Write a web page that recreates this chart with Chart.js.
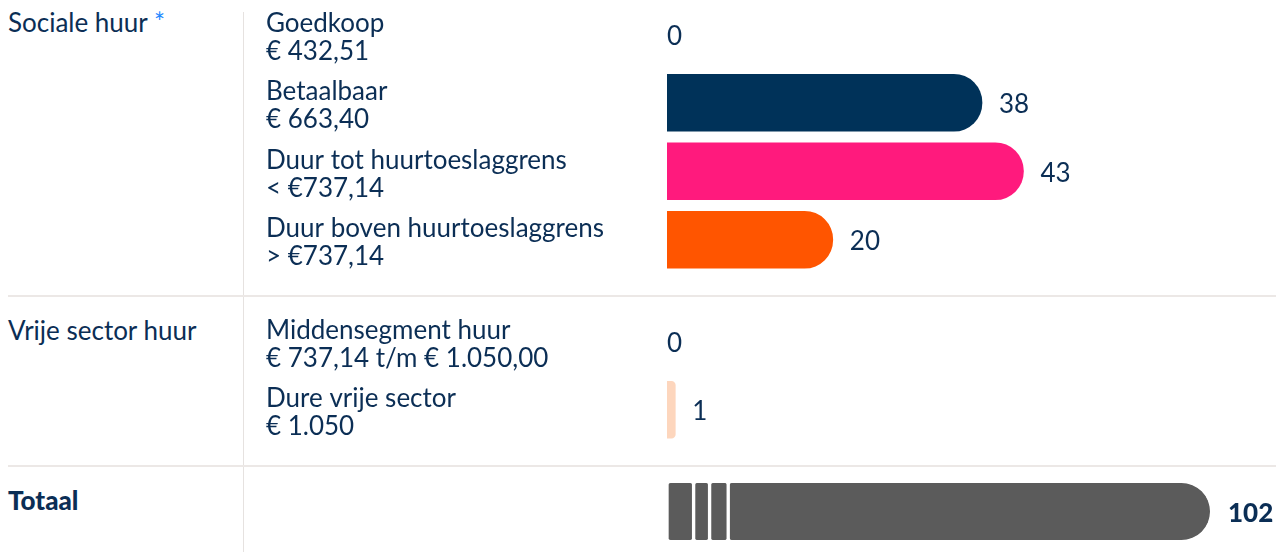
<!DOCTYPE html>
<html lang="nl">
<head>
<meta charset="utf-8">
<title>Huurwoningen per segment</title>
<script src="https://cdn.jsdelivr.net/npm/chart.js@4.4.1/dist/chart.umd.min.js"></script>
<style>
  body { margin: 0; background: #fff; font-family: Lato, sans-serif; color: #0b2e55; }
  #wrap { position: relative; width: 1276px; height: 552px; overflow: hidden; }
  .vline { position: absolute; left: 243px; top: 12px; width: 1px; height: 540px; background: #e6e2e0; }
  .hline { position: absolute; left: 8px; right: 0; height: 2px; background: #ece8e6; }
  .groep { position: absolute; left: 8px; font-size: 26px; line-height: 28px; white-space: nowrap; }
  .groep .ster { color: #1e88ff; }
  .groep.vet { font-weight: 900; }
  canvas { position: absolute; left: 243px; }
</style>
</head>
<body>
<div id="wrap">
  <div class="vline"></div>
  <div class="hline" style="top:295px"></div>
  <div class="hline" style="top:465px"></div>
  <div class="groep" style="top:8px">Sociale huur <span class="ster">*</span></div>
  <div class="groep" style="top:316px">Vrije sector huur</div>
  <div class="groep vet" style="top:486px">Totaal</div>
  <canvas id="socialeChart" width="1033" height="274" style="top:0px"></canvas>
  <canvas id="vrijeChart" width="1033" height="137" style="top:307px"></canvas>
  <canvas id="totaalChart" width="1033" height="69" style="top:477px"></canvas>
</div>
<script>
// data
const socialeLabels = [
    ['Goedkoop', '€ 432,51'],
    ['Betaalbaar', '€ 663,40'],
    ['Duur tot huurtoeslaggrens', '< €737,14'],
    ['Duur boven huurtoeslaggrens', '> €737,14']
];
const socialeWaarden = [0, 38, 43, 20];

const vrijeLabels = [
    ['Middensegment huur', '€ 737,14 t/m € 1.050,00'],
    ['Dure vrije sector', '€ 1.050']
];
const vrijeWaarden = [0, 1];

const totaalSegmenten = [5, 3, 3.5, 90.5];
const totaalWaarde = 102;

// colours
const socialeKleuren = ['#7fb2e5', '#003259', '#ff1a7d', '#ff5500'];
const vrijeKleuren = ['#ffb27f', '#fdd6bd'];
const totaalKleur = '#5b5b5b';
const tekstKleur = '#0b2e55';

const FONT = 'Lato, sans-serif';
const RIJ_MAX = 65.5;

const waardeLabels = {
    id: 'waardeLabels',
    afterDatasetsDraw(chart) {
        const ctx = chart.ctx;
        ctx.save();
        ctx.fillStyle = tekstKleur;
        ctx.textBaseline = 'middle';
        ctx.textAlign = 'left';
        if (chart.options.plugins.waardeLabels.totaal) {
            const metas = chart.getSortedVisibleDatasetMetas();
            const last = metas[metas.length - 1].data[0];
            ctx.font = '900 26px ' + FONT;
            ctx.fillText(String(totaalWaarde), last.x + 18, last.y + 2);
        } else {
            ctx.font = '26px ' + FONT;
            const ds = chart.data.datasets[0];
            chart.getDatasetMeta(0).data.forEach((bar, i) => {
                const v = ds.data[i];
                const x = v > 0 ? bar.x + 17 : chart.chartArea.left;
                ctx.fillText(String(v), x, bar.y + 2);
            });
        }
        ctx.restore();
    }
};

function yAs(labels) {
    return {
        type: 'category',
        labels: labels,
        grid: { display: false },
        border: { display: false },
        ticks: {
            color: tekstKleur,
            font: { family: FONT, size: 26, lineHeight: '28px' },
            crossAlign: 'far',
            autoSkip: false,
            padding: 0,
            labelOffset: 3
        },
        afterFit(scale) {
            scale.width = 401;
            scale.paddingTop = 0;
            scale.paddingBottom = 0;
        }
    };
}

function rijChart(id, labels, waarden, kleuren) {
    return new Chart(document.getElementById(id), {
        type: 'bar',
        data: {
            labels: labels,
            datasets: [{
                data: waarden,
                backgroundColor: c => c.raw > 0 ? kleuren[c.dataIndex] : 'rgba(0,0,0,0)',
                borderRadius: { topRight: 29, bottomRight: 29 },
                barThickness: 57
            }]
        },
        options: {
            indexAxis: 'y',
            responsive: false,
            animation: false,
            layout: { padding: { left: 23, right: 66, top: 0, bottom: 0 } },
            scales: {
                x: { min: 0, max: RIJ_MAX, display: false },
                y: yAs(labels)
            },
            plugins: { legend: { display: false }, tooltip: { enabled: false }, waardeLabels: {} }
        },
        plugins: [waardeLabels]
    });
}

rijChart('socialeChart', socialeLabels, socialeWaarden, socialeKleuren);
rijChart('vrijeChart', vrijeLabels, vrijeWaarden, vrijeKleuren);

new Chart(document.getElementById('totaalChart'), {
    type: 'bar',
    data: {
        labels: [''],
        datasets: totaalSegmenten.map((v, i) => ({
            data: [v],
            backgroundColor: totaalKleur,
            borderColor: '#ffffff',
            borderWidth: { left: 2, right: i === totaalSegmenten.length - 1 ? 0 : 2, top: 0, bottom: 0 },
            borderSkipped: false,
            borderRadius: i === totaalSegmenten.length - 1
                ? { topLeft: 4, bottomLeft: 4, topRight: 29, bottomRight: 29 }
                : { topLeft: 4, bottomLeft: 4, topRight: 4, bottomRight: 4 },
            barThickness: 57
        }))
    },
    options: {
        indexAxis: 'y',
        responsive: false,
        animation: false,
        layout: { padding: { left: 23, right: 66, top: 0, bottom: 0 } },
        scales: {
            x: { stacked: true, min: 0, max: totaalWaarde, display: false },
            y: Object.assign(yAs(['']), { stacked: true })
        },
        plugins: { legend: { display: false }, tooltip: { enabled: false }, waardeLabels: { totaal: true } }
    },
    plugins: [waardeLabels]
});
</script>
</body>
</html>
